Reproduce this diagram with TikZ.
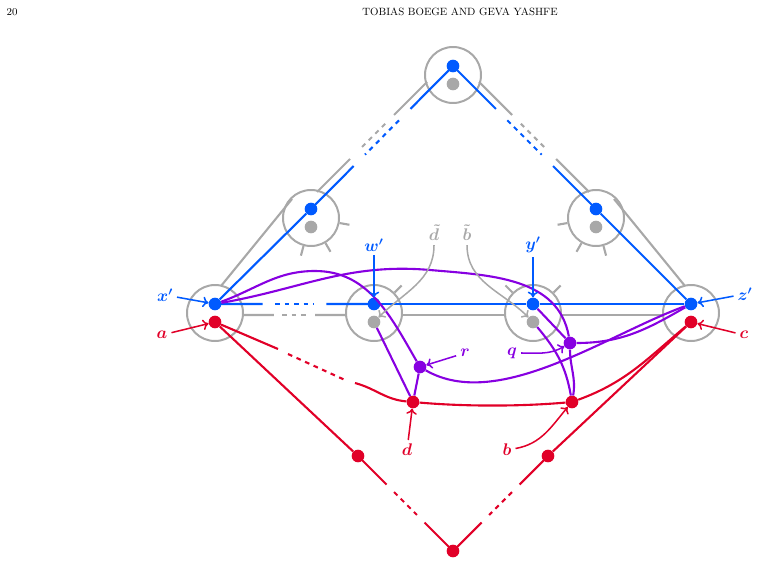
\documentclass[tikz,border=0pt]{standalone}
\usetikzlibrary{arrows.meta,calc}
\definecolor{bl}{RGB}{0,90,255}
\definecolor{rd}{RGB}{225,0,40}
\definecolor{pu}{RGB}{135,0,225}
\definecolor{gr}{RGB}{168,168,168}
\tikzset{
  ring/.style={draw=gr, line width=1.7pt, circle, minimum size=1.68cm, inner sep=0pt},
  dot/.style={circle, fill=#1, inner sep=0pt, minimum size=0.38cm},
  edge/.style={line width=1.8pt, draw=#1},
  gap/.style={edge=#1, dash pattern=on 4pt off 4pt},
  pin/.style={line width=1.3pt, draw=#1, -{To[length=5pt,width=9pt]}},
  lab/.style={text=#1, font=\Large\boldmath}
}
% broken line: solid, dashed middle, solid
\newcommand\brk[3]{%
  \draw[edge=#1] (#2) -- ($(#2)!0.3!(#3)$);
  \draw[gap=#1] ($(#2)!0.38!(#3)$) -- ($(#2)!0.62!(#3)$);
  \draw[edge=#1] ($(#2)!0.7!(#3)$) -- (#3);}
\begin{document}
\begin{tikzpicture}[x=0.03cm, y=-0.03cm]
\useasboundingbox (0,0) rectangle (762,565);
\node[font=\small] (pg) at (12,12) {20};
\node[font=\small] (head) at (460,12) {TOBIAS BOEGE AND GEVA YASHFE};

% circles
\foreach \n/\x/\y in {t/453/75, ml/311/218, mr/596/218, bl/215/313, w/374/313, y/533/313, br/691/313}
  \node[ring] (c\n) at (\x,\y) {};

% gray stubs on circles
\foreach \c/\a in {ml/-10, ml/-60, ml/-105, mr/190, mr/240, mr/285, w/45, y/45, y/135}
  \draw[edge=gr] (c\c.\a) -- ++({-\a}:10);

% gray double lines
\coordinate (g1) at (427,82);  \coordinate (g2) at (317,192);
\coordinate (g3) at (479,82);  \coordinate (g4) at (589,192);
\coordinate (g5) at (292,199); \coordinate (g6) at (221,286);
\coordinate (g7) at (614,199); \coordinate (g8) at (685,286);
\coordinate (g9) at (243,315); \coordinate (g10) at (346,315);
\brk{gr}{g1}{g2}
\brk{gr}{g3}{g4}
\draw[edge=gr] (g5) -- (g6);
\draw[edge=gr] (g7) -- (g8);
\brk{gr}{g9}{g10}
\draw[edge=gr] (402,315) -- (505,315) (561,315) -- (663,315);

% dots
\foreach \n/\x/\y in {t/453/84, ml/311/227, mr/596/227, w/374/322, y/533/322}
  \node[dot=gr] (g\n) at (\x,\y) {};
\foreach \n/\x/\y in {t/453/66, ml/311/209, mr/596/209, x/215/304, w/374/304, y/533/304, z/691/304}
  \node[dot=bl] (b\n) at (\x,\y) {};
\foreach \n/\x/\y in {a/215/322, c/691/322, d/413/402, b/572/402, l/358/456, r/548/456, o/453/551}
  \node[dot=rd] (r\n) at (\x,\y) {};
\node[dot=pu] (pr) at (420,367) {};
\node[dot=pu] (pq) at (570,343) {};

% blue
\brk{bl}{bt.center}{bml.center}
\brk{bl}{bt.center}{bmr.center}
\draw[edge=bl] (bml) -- (bx);
\draw[edge=bl] (bmr) -- (bz);
\brk{bl}{bx.center}{bw.center}
\draw[edge=bl] (bw) -- (by) -- (bz);

% red
\draw[edge=rd] (ra) -- (rl);
\brk{rd}{rl.center}{ro.center}
\brk{rd}{rr.center}{ro.center}
\draw[edge=rd] (rc) -- (rr);
\draw[edge=rd] (ra) -- (278,349);
\draw[gap=rd] (288,354) -- (345,380);
\draw[edge=rd] (355,383) to[out=-15,in=175] (rd);
\draw[edge=rd] (rd) to[out=-5,in=-175,looseness=0.8] (rb);
\draw[edge=rd] (rb) to[out=20,in=-140] (rc);

% purple
\draw[edge=pu] (bx) to[out=20,in=180] (315,271) to[out=0,in=120] (pr);
\draw[edge=pu] (bx) to[out=10,in=175] (430,270) to[out=-5,in=100] (pq);
\draw[edge=pu] (gw) -- (rd);
\draw[edge=pu] (pr) -- (rd);
\draw[edge=pu] (pr) to[out=-30,in=-160,looseness=0.8] (bz);
\draw[edge=pu] (pq) to[out=0,in=-150] (bz);
\draw[edge=pu] (pq) to[out=-90,in=80] (rb);
\draw[edge=pu] (gy) to[out=-50,in=100] (rb);
\draw[edge=pu] (by) -- (pq);

% labels
\node[lab=bl] (lx) at (165,295) {$x'$};
\node[lab=rd] (la) at (162,335) {$a$};
\node[lab=bl] (lw) at (374,245) {$w'$};
\node[lab=gr] (ld) at (434,233) {$\tilde d$};
\node[lab=gr] (lb) at (467,233) {$\tilde b$};
\node[lab=bl] (ly) at (533,245) {$y'$};
\node[lab=bl] (lz) at (745,294) {$z'$};
\node[lab=rd] (lc) at (744,335) {$c$};
\node[lab=pu] (lr) at (465,353) {$r$};
\node[lab=pu] (lq) at (512,353) {$q$};
\node[lab=rd] (ldd) at (407,450) {$d$};
\node[lab=rd] (lbb) at (507,450) {$b$};

\draw[pin=bl] (lx) -- (bx);
\draw[pin=rd] (la) -- (ra);
\draw[pin=bl] (lw) -- (bw);
\draw[pin=bl] (ly) -- (by);
\draw[pin=bl] (lz) -- (bz);
\draw[pin=rd] (lc) -- (rc);
\draw[pin=pu] (lr) -- (pr);
\draw[pin=pu] (lq) to[out=0,in=-150] (pq);
\draw[pin=rd] (ldd) -- (rd);
\draw[pin=rd] (lbb) to[out=10,in=-130] (rb);
\draw[pin=gr] (ld.south) to[out=-90,in=45] (gw);
\draw[pin=gr] (lb.south) to[out=-90,in=135] (gy);
\end{tikzpicture}
\end{document}
